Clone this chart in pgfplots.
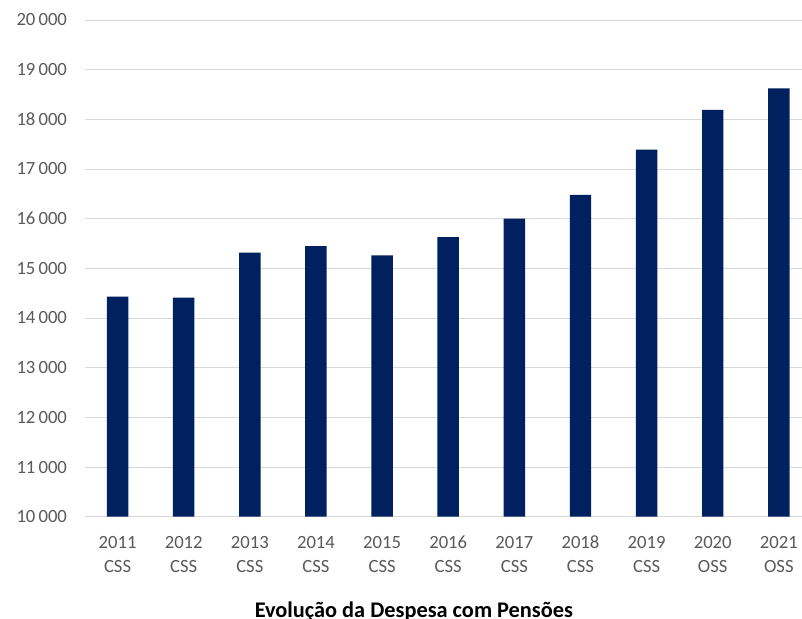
\documentclass[border=0pt]{standalone}
\usepackage{pgfplots}
\pgfplotsset{compat=1.18}
\usepackage{fontspec}
\setmainfont{Carlito}
\definecolor{navy}{HTML}{002060}
\definecolor{txt}{HTML}{595959}
\definecolor{gridc}{HTML}{D9D9D9}

\begin{document}
\begin{tikzpicture}
\path[use as bounding box] (-63.4pt,-76.7pt) rectangle (538.1pt,387.5pt);
\begin{axis}[
    scale only axis, width=538.1pt, height=372.5pt,
    xmin=-0.5, xmax=10.35, ymin=10000, ymax=20000,
    scaled y ticks=false,
    axis line style={draw=none}, tick style={draw=none},
    ymajorgrids, major grid style={draw=gridc, line width=0.75pt},
    ytick={10000,11000,...,20000},
    yticklabels={10\,000,11\,000,12\,000,13\,000,14\,000,15\,000,16\,000,17\,000,18\,000,19\,000,20\,000},
    xtick={0,...,10},
    xticklabels={{\strut 2011\\\strut CSS},{\strut 2012\\\strut CSS},{\strut 2013\\\strut CSS},{\strut 2014\\\strut CSS},{\strut 2015\\\strut CSS},{\strut 2016\\\strut CSS},{\strut 2017\\\strut CSS},{\strut 2018\\\strut CSS},{\strut 2019\\\strut CSS},{\strut 2020\\\strut OSS},{\strut 2021\\\strut OSS}},
    ticklabel style={font=\fontsize{14}{18}\selectfont, text=txt},
    yticklabel style={anchor=east, inner sep=0pt, xshift=-13pt},
    xticklabel style={align=center, anchor=north, inner sep=0pt, yshift=-10.75pt},
]
\addplot[ybar, fill=navy, draw=none, bar width=16.1pt] coordinates {
    (0,14430) (1,14410) (2,15315) (3,15445) (4,15260) (5,15630)
    (6,16000) (7,16480) (8,17390) (9,18190) (10,18625)
};
\end{axis}
\node[anchor=base, font=\bfseries\fontsize{16.75}{20}\selectfont] at (247pt,-75.5pt) {Evolução da Despesa com Pensões};
\end{tikzpicture}
\end{document}
